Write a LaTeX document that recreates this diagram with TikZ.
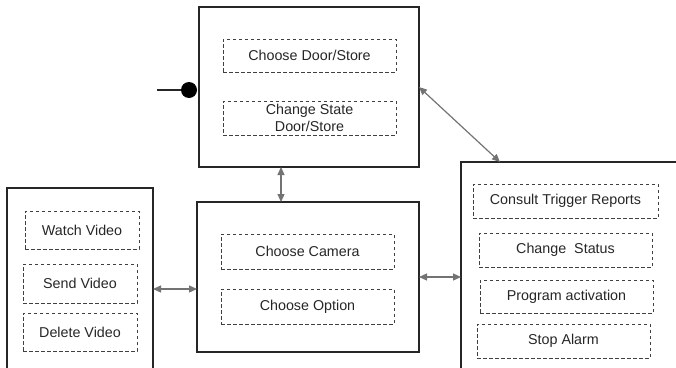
\documentclass[tikz,border=0pt]{standalone}
\usepackage{fontspec}
\setmainfont{Liberation Sans}
\usetikzlibrary{arrows.meta}

\begin{document}
\begin{tikzpicture}[x=1pt, y=-1pt,
    panel/.style={draw=black!85, line width=1.2pt, inner sep=0pt, outer sep=0pt},
    task/.style={draw=black!75, line width=0.9pt, dash pattern=on 3.5pt off 2.5pt,
        inner sep=0pt, outer sep=0pt, text=black!85, align=center,
        font=\fontsize{14.3}{17.5}\selectfont},
    link/.style={draw=black!55, line width=1.2pt,
        {Triangle[length=8pt,width=7pt]}-{Triangle[length=8pt,width=7pt]}}]
    \useasboundingbox (0,0) rectangle (676,367);

    % the four panels
    \node[panel, minimum width=220pt, minimum height=160pt](door)at(309,87){};
    \node[panel, minimum width=222pt, minimum height=150pt](cam)at(308,277){};
    \node[panel, minimum width=146pt, minimum height=212pt](video)at(80,294){};
    \node[panel, minimum width=239pt, minimum height=238pt](ctrl)at(580.5,281){};

    % door/store panel
    \node[task, minimum width=173pt, minimum height=33pt](chdoor)at(309.5,55.5){Choose Door/Store};
    \node[task, minimum width=173pt, minimum height=34pt](chstate)at(309.5,118){Change State\\Door/Store};

    % camera panel
    \node[task, minimum width=173pt, minimum height=35pt](chcam)at(307.5,251.5){Choose Camera};
    \node[task, minimum width=173pt, minimum height=35pt](chopt)at(307.5,306.5){Choose Option};

    % video panel
    \node[task, minimum width=114pt, minimum height=38pt](watch)at(82,230){Watch Video};
    \node[task, minimum width=114pt, minimum height=39pt](send)at(80,283.5){Send Video};
    \node[task, minimum width=114pt, minimum height=38pt](del)at(80,332){Delete Video};

    % alarm panel
    \node[task, minimum width=185pt, minimum height=34pt](trig)at(565.5,201){Consult Trigger Reports};
    \node[task, minimum width=173pt, minimum height=34pt](status)at(565.5,250){Change~~Status};
    \node[task, minimum width=173pt, minimum height=33pt](prog)at(566.5,296.5){Program activation};
    \node[task, minimum width=173pt, minimum height=34pt](alarm)at(563.5,341){Stop Alarm};

    % entry point
    \coordinate(entry)at(157,90);
    \node[circle, fill=black, minimum size=16pt, inner sep=0pt](dot)at(189,90){};
    \draw[line width=1.2pt, black!85](entry)--(dot);

    % connectors
    \draw[link]([xshift=-28pt]door.south)--([xshift=-28pt]door.south |- cam.north);
    \draw[link](door.east)--([xshift=39pt]ctrl.north west);
    \draw[link](video.east |- chopt.north)--(cam.west |- chopt.north);
    \draw[link](cam.east)--(cam.east -| ctrl.west);
\end{tikzpicture}
\end{document}
